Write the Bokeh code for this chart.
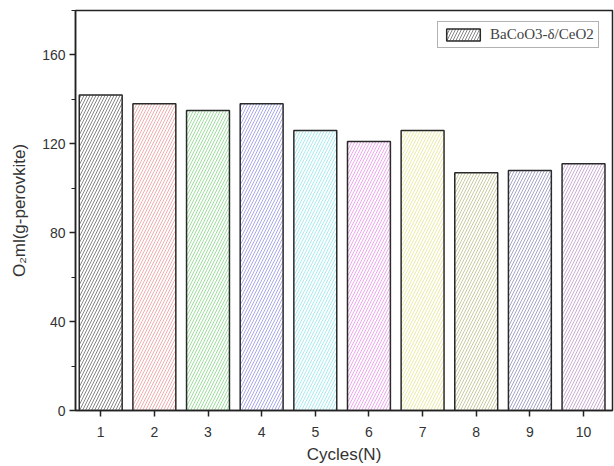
from bokeh.plotting import figure
from bokeh.models import ColumnDataSource, Legend, LegendItem, FixedTicker, SingleIntervalTicker, Range1d
from bokeh.embed import file_html
from bokeh.resources import INLINE

cycles = [1, 2, 3, 4, 5, 6, 7, 8, 9, 10]
o2_values = [142, 138, 135, 138, 126, 121, 126, 107, 108, 111]
hatch_colors = ["#333333", "#e87878", "#5ccc5c", "#6f6fe0", "#6ee0e8",
                "#e46ee4", "#e0e070", "#a8a860", "#6a6aa8", "#a878b8"]
series_label = "BaCoO3-δ/CeO2"

src = ColumnDataSource(dict(x=cycles, top=o2_values, hc=hatch_colors))

p = figure(width=614, height=466, output_backend="svg", toolbar_location=None,
           x_range=Range1d(0.53, 10.54), y_range=Range1d(0, 180),
           min_border_left=75, min_border_right=2, min_border_top=10, min_border_bottom=56)

r = p.vbar(x="x", top="top", width=0.8, source=src, fill_color="white",
           line_color="#2a2a2a", line_width=1.5,
           hatch_pattern="/", hatch_color="hc", hatch_scale=6, hatch_weight=1, hatch_alpha=0.6)

p.xgrid.visible = False
p.ygrid.visible = False
p.outline_line_color = "#222222"
p.outline_line_width = 1.5

p.xaxis.ticker = FixedTicker(ticks=cycles)
p.yaxis.ticker = SingleIntervalTicker(interval=40, num_minor_ticks=2)
for ax in (p.xaxis, p.yaxis):
    ax.axis_line_width = 1.5
    ax.axis_line_color = "#222222"
    ax.major_tick_line_color = "#222222"
    ax.major_tick_line_width = 1.5
    ax.major_tick_in = 0
    ax.major_tick_out = 6
    ax.minor_tick_in = 0
    ax.minor_tick_out = 4
    ax.minor_tick_line_color = "#222222"
    ax.major_label_text_font = "Liberation Sans"
    ax.major_label_text_font_size = "14px"
    ax.major_label_text_color = "#333333"
    ax.axis_label_text_font = "Liberation Sans"
    ax.axis_label_text_font_size = "17px"
    ax.axis_label_text_font_style = "normal"
    ax.axis_label_text_color = "#333333"
p.xaxis.minor_tick_out = 0
p.xaxis.axis_label = "Cycles(N)"
p.yaxis.axis_label = "O₂ml(g-perovkite)"
p.xaxis.major_label_standoff = 10
p.yaxis.major_label_standoff = 4
p.xaxis.axis_label_standoff = 5
p.yaxis.axis_label_standoff = 10

legend = Legend(items=[LegendItem(label=series_label, renderers=[r], index=0)],
                location=(362, 362), label_text_font="Liberation Serif",
                label_text_font_size="15px", glyph_width=42, glyph_height=15,
                padding=4, spacing=0, margin=0, border_line_color="#666666",
                label_standoff=6, label_height=16)
p.add_layout(legend, "center")

open("out.html", "w").write(file_html(p, INLINE))
